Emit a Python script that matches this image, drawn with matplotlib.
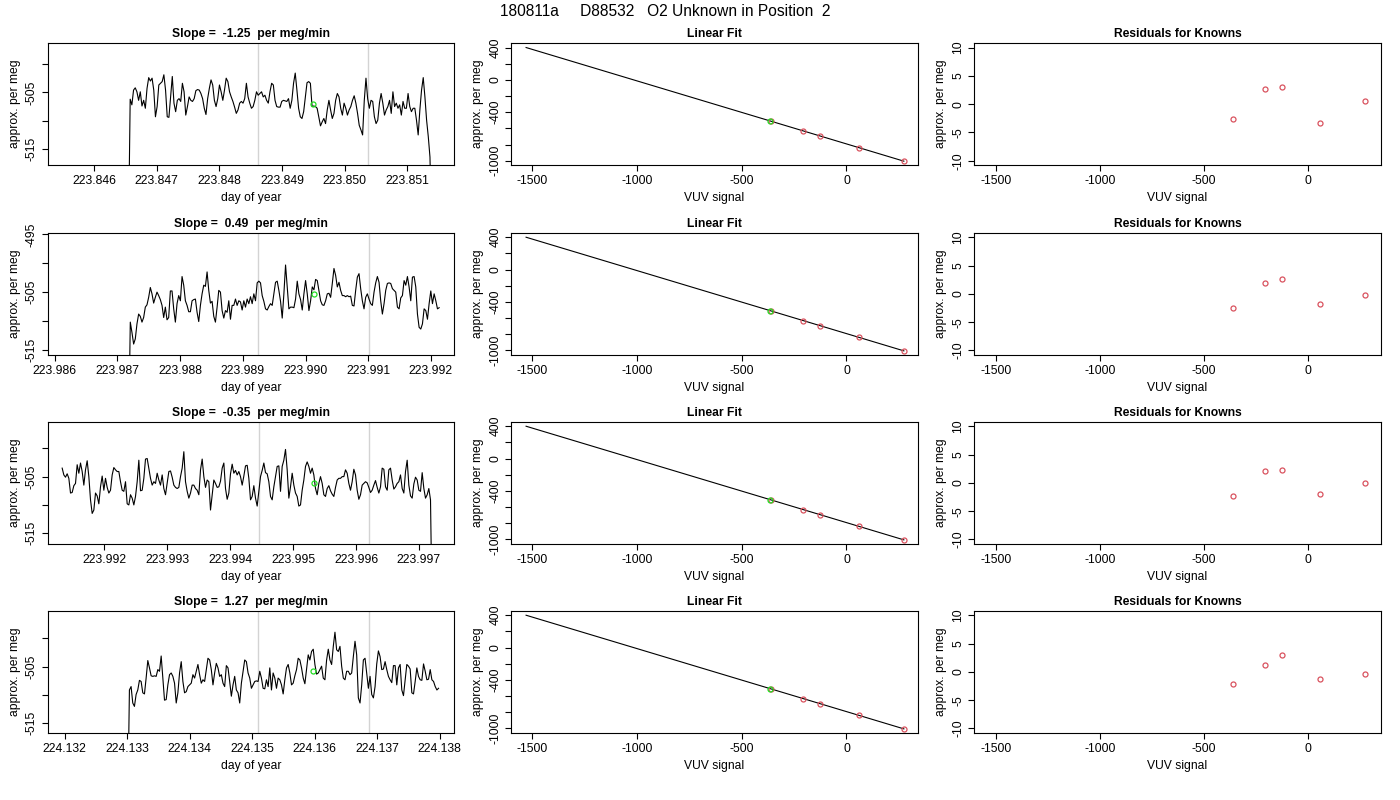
import numpy as np
import matplotlib
matplotlib.use("Agg")
import matplotlib.pyplot as plt

plt.rcParams['font.family'] = ['Liberation Sans', 'DejaVu Sans']

# ---------------- data ----------------
main_title = "180811a     D88532   O2 Unknown in Position  2"
slope_titles = ["Slope =  -1.25  per meg/min", "Slope =  0.49  per meg/min",
                "Slope =  -0.35  per meg/min", "Slope =  1.27  per meg/min"]

ts1_vals = [-530, -506.2, -507.2, -504.6, -504.2, -504.9, -506.4, -504.9, -507.4, -506.4, -507.8, -504.3,
            -502.4, -503.0, -502.5, -504.6, -509.3, -507.5, -503.7, -503.4, -503.1, -501.9, -504.6, -509.3,
            -509.4, -505.8, -502.2, -506.9, -508.4, -506.4, -506.1, -506.6, -503.4, -504.9, -509.0, -507.5,
            -505.8, -506.4, -506.6, -506.1, -504.7, -504.5, -504.6, -505.2, -506.1, -507.8, -508.9, -506.1,
            -504.3, -502.8, -503.7, -506.4, -507.5, -506.1, -503.7, -504.9, -506.4, -504.6, -502.5, -503.1,
            -504.9, -505.8, -506.6, -507.6, -508.7, -508.1, -506.9, -506.6, -506.9, -506.1, -503.4, -505.8,
            -506.9, -507.8, -507.5, -506.4, -504.9, -505.5, -505.2, -504.9, -505.8, -505.5, -506.4, -506.9,
            -504.9, -503.4, -503.7, -506.4, -507.5, -507.6, -507.6, -506.6, -506.4, -506.5, -506.6, -506.1,
            -507.8, -506.4, -503.4, -501.6, -504.6, -507.8, -509.3, -509.6, -508.4, -505.8, -503.3, -503.1,
            -503.4, -507.5, -507.4, -507.5, -507.8, -509.3, -510.9, -510.2, -509.6, -510.5, -508.1, -506.4,
            -508.1, -509.6, -508.7, -506.4, -505.2, -505.8, -507.8, -509.0, -506.9, -507.8, -509.0, -508.1,
            -507.5, -506.4, -505.6, -506.9, -508.7, -510.8, -511.6, -512.5, -506.4, -502.5, -506.1, -507.8,
            -506.4, -506.6, -509.3, -510.5, -509.9, -506.9, -505.2, -506.9, -509.0, -508.1, -507.5, -506.4,
            -508.7, -504.9, -507.5, -506.9, -507.8, -507.2, -509.0, -506.6, -507.8, -507.8, -505.2, -507.5,
            -508.4, -507.8, -507.8, -509.9, -512.5, -508.1, -504.6, -502.4, -505.8, -509.9, -512.8, -516.4,
            -530]

ts2_vals = [-530, -510.2, -512.0, -514.0, -513.1, -510.5, -508.8, -509.2, -510.2, -509.4, -507.6, -507.2,
            -505.9, -504.2, -505.3, -506.9, -505.9, -505.0, -505.6, -506.3, -507.3, -509.4, -507.6, -509.8,
            -509.4, -504.8, -504.8, -507.9, -510.2, -507.0, -505.6, -506.5, -502.3, -503.8, -506.5, -507.3,
            -508.4, -508.4, -506.5, -506.3, -506.2, -508.5, -510.1, -507.3, -505.3, -503.8, -504.0, -501.5,
            -504.7, -506.9, -506.6, -509.2, -510.2, -507.6, -504.7, -505.0, -508.2, -509.5, -508.2, -508.5,
            -506.5, -509.7, -507.3, -507.3, -506.2, -507.3, -506.5, -506.7, -508.1, -506.5, -507.6, -506.2,
            -507.0, -505.8, -507.0, -505.3, -506.5, -503.4, -503.1, -503.4, -505.6, -506.6, -507.9, -508.1,
            -507.5, -507.0, -507.3, -505.3, -503.3, -503.1, -504.7, -506.6, -509.5, -505.3, -500.3, -504.1,
            -507.9, -507.6, -507.6, -507.7, -506.2, -503.1, -505.3, -506.3, -508.1, -505.3, -503.0, -505.3,
            -508.2, -506.5, -504.1, -504.6, -502.8, -503.0, -504.7, -506.5, -507.2, -507.3, -506.5, -505.3,
            -505.2, -505.9, -503.5, -500.9, -502.1, -504.1, -503.3, -504.7, -505.6, -505.6, -505.8, -505.6,
            -505.8, -505.7, -507.3, -507.4, -504.7, -502.4, -501.8, -504.4, -506.5, -507.9, -505.9, -505.3,
            -506.2, -507.0, -507.3, -505.0, -503.4, -502.3, -503.3, -506.5, -508.8, -507.0, -504.7, -503.5,
            -503.4, -503.5, -504.4, -504.7, -505.0, -507.6, -507.9, -506.0, -505.6, -503.0, -503.8, -502.3,
            -504.1, -506.5, -502.4, -502.3, -504.1, -508.8, -511.1, -511.4, -510.5, -507.9, -508.2, -509.7,
            -507.0, -504.8, -507.0, -505.3, -506.5, -507.9, -507.7]

ts3_vals = [-503.5, -504.7, -505.1, -504.5, -505.3, -507.9, -507.8, -506.6, -506.2, -502.9, -504.4, -502.6,
            -504.1, -506.5, -503.8, -502.2, -505.0, -509.1, -511.5, -510.9, -507.9, -508.4, -509.8, -506.8,
            -504.9, -507.4, -505.3, -506.9, -507.9, -507.4, -504.7, -503.4, -503.8, -504.1, -504.1, -505.9,
            -507.4, -507.6, -505.9, -509.8, -510.0, -508.2, -508.8, -510.0, -508.5, -505.9, -502.1, -507.5,
            -507.4, -505.3, -501.9, -501.8, -503.5, -505.3, -506.5, -505.9, -506.2, -504.4, -505.6, -506.5,
            -504.7, -507.1, -508.2, -506.2, -504.1, -504.0, -505.1, -506.5, -506.9, -507.1, -506.9, -505.0,
            -503.5, -500.6, -505.9, -507.6, -508.8, -507.9, -506.5, -506.5, -507.1, -507.4, -508.2, -503.8,
            -501.9, -505.0, -506.9, -505.6, -505.9, -510.9, -508.2, -505.6, -506.2, -506.9, -506.8, -505.8,
            -503.5, -502.6, -507.1, -509.0, -507.9, -504.5, -502.8, -504.4, -503.9, -504.7, -504.1, -505.0,
            -506.5, -504.9, -503.1, -503.0, -505.3, -509.1, -508.5, -506.6, -508.8, -510.2, -507.6, -505.0,
            -503.9, -502.6, -504.3, -504.5, -505.9, -508.5, -509.1, -506.8, -505.0, -503.2, -503.1, -507.6,
            -503.2, -502.1, -500.2, -503.8, -508.8, -506.8, -504.4, -506.5, -507.9, -508.5, -510.2, -510.0,
            -507.4, -505.6, -503.2, -502.4, -503.2, -504.4, -503.5, -504.7, -507.1, -508.2, -506.2, -505.0,
            -506.2, -508.2, -508.5, -507.1, -506.6, -507.5, -508.1, -508.5, -506.9, -505.6, -505.3, -505.3,
            -505.0, -505.0, -503.8, -504.4, -506.2, -507.4, -505.9, -503.7, -504.7, -507.4, -509.0, -508.2,
            -506.5, -506.2, -505.9, -506.1, -506.9, -507.8, -507.4, -506.5, -505.7, -506.9, -507.9, -506.8,
            -503.5, -503.7, -506.8, -507.4, -503.8, -503.5, -505.6, -507.2, -506.8, -506.2, -505.9, -504.7,
            -507.1, -507.9, -504.1, -502.1, -506.5, -508.4, -508.8, -506.3, -505.1, -505.6, -507.4, -507.6,
            -504.3, -507.1, -508.8, -508.2, -507.1, -509.1, -530]

ts4_vals = [-530, -509.1, -508.5, -511.4, -512.0, -509.9, -509.1, -507.4, -507.6, -509.6, -509.8, -507.0,
            -503.9, -505.2, -506.6, -506.7, -506.6, -506.7, -505.5, -505.8, -503.1, -507.0, -510.9, -510.8,
            -508.2, -506.4, -506.1, -506.7, -507.9, -511.4, -509.6, -506.1, -504.1, -507.6, -509.6, -509.4,
            -508.5, -508.2, -507.9, -506.4, -507.0, -505.8, -504.6, -506.4, -507.9, -507.3, -507.6, -505.5,
            -503.5, -503.8, -505.5, -508.2, -506.1, -504.4, -505.2, -506.7, -506.4, -507.9, -508.5, -504.8,
            -505.2, -507.6, -510.2, -508.2, -506.7, -509.1, -509.6, -511.4, -507.9, -505.8, -503.8, -504.1,
            -506.1, -507.0, -508.8, -508.2, -507.6, -507.5, -507.6, -505.8, -507.0, -508.8, -508.9, -507.3,
            -508.5, -505.2, -509.1, -506.1, -507.0, -508.8, -507.0, -507.3, -508.2, -509.8, -507.3, -505.2,
            -504.6, -506.1, -508.2, -507.9, -506.6, -505.5, -503.5, -503.8, -505.2, -507.0, -508.0, -505.5,
            -502.9, -503.8, -502.3, -501.9, -504.6, -506.3, -506.1, -505.5, -504.9, -507.0, -507.3, -503.8,
            -501.9, -503.8, -504.6, -501.4, -498.9, -502.0, -502.3, -501.4, -504.9, -507.0, -507.3, -505.8,
            -505.8, -506.4, -506.1, -503.2, -500.5, -502.9, -510.5, -511.4, -508.2, -503.8, -503.5, -506.1,
            -508.8, -506.7, -509.9, -510.5, -508.5, -504.5, -502.2, -503.2, -505.5, -505.4, -504.1, -505.5,
            -506.7, -507.3, -507.8, -504.8, -504.8, -508.2, -505.2, -504.6, -509.1, -510.1, -507.3, -504.6,
            -504.9, -505.4, -509.6, -509.8, -507.6, -505.2, -506.7, -507.3, -507.4, -504.5, -505.8, -507.3,
            -507.2, -505.5, -507.3, -507.6, -508.5, -509.1, -508.8]

ts_vals = [ts1_vals, ts2_vals, ts3_vals, ts4_vals]
# first / last sample time (day of year)
ts_start = [223.84655, 223.98718, 223.99133, 224.13301]
ts_end = [223.85139, 223.99213, 223.99721, 224.13798]
# gray markers
gray_lines = [[223.84862, 223.85037], [223.98925, 223.99101],
              [223.99445, 223.99620], [224.13510, 224.13686]]
# green (unknown mean) points
green_t = [223.84950, 223.99013, 223.99533, 224.13598]
green_v = [-507.1, -505.3, -506.1, -505.8]
ts_xlim = [(223.84526, 223.85175), (223.98589, 223.99237),
           (223.99110, 223.99756), (224.13173, 224.13823)]
ts_ylim = [(-517.85, -496.3), (-515.9, -494.7), (-516.9, -495.3), (-516.7, -495.1)]
ts_xticks = [[223.846, 223.847, 223.848, 223.849, 223.850, 223.851],
             [223.986, 223.987, 223.988, 223.989, 223.990, 223.991, 223.992],
             [223.992, 223.993, 223.994, 223.995, 223.996, 223.997],
             [224.132, 224.133, 224.134, 224.135, 224.136, 224.137, 224.138]]
ts_yticks = [[-515, -510, -505, -500], [-515, -510, -505, -500, -495],
             [-515, -510, -505, -500], [-515, -510, -505, -500]]
ts_yticklabels = [['-515', '', '-505', ''], ['-515', '', '-505', '', '-495'],
                  ['-515', '', '-505', ''], ['-515', '', '-505', '']]

# linear fit (same for every row)
fit_x = [-1529, 274]
fit_y = [400, -1005]
known_x = [-361, -206, -125, 59, 274]
known_y = [-510, -631, -694, -837, -1005]
unknown_x = -364
unknown_y = -507
lf_xticks = [-1500, -1000, -500, 0]
lf_yticks = [400, 200, 0, -200, -400, -600, -800, -1000]
lf_yticklabels = ['400', '', '0', '', '-400', '', '', '-1000']

residuals = [[-2.7, 2.7, 3.0, -3.4, 0.5],
             [-2.5, 1.9, 2.6, -1.85, -0.25],
             [-2.4, 2.1, 2.3, -2.0, 0.0],
             [-2.1, 1.15, 2.9, -1.2, -0.45]]
res_yticks = [10, 5, 0, -5, -10]

RED = '#D9525E'
GREEN = '#22DD22'
FS = 8.7
MS = 3.6

# ---------------- layout ----------------
W, H = 1400, 800
fig = plt.figure(figsize=(14, 8), dpi=100)
col_left = [47.7, 511.0, 974.3]
col_w = 406.5
row_top = [43.0, 232.7, 421.7, 610.7]
row_h = 122.3


def make_ax(r, c):
    l = col_left[c] / W
    b = 1 - (row_top[r] + row_h) / H
    ax = fig.add_axes([l, b, col_w / W, row_h / H])
    for s in ax.spines.values():
        s.set_color('black')
        s.set_linewidth(0.8)
    ax.tick_params(direction='out', length=4.5, width=0.8, labelsize=FS, pad=2.5)
    ax.tick_params(axis='y', labelrotation=90)
    return ax


def finish(ax, title, xlabel):
    ax.set_title(title, fontsize=FS, fontweight='bold', pad=4)
    ax.set_xlabel(xlabel, fontsize=FS)
    ax.set_ylabel('approx. per meg', fontsize=FS)
    ax.xaxis.set_label_coords(0.5, -33 / row_h)
    ax.xaxis.label.set_va('center')
    ax.yaxis.set_label_coords(-33 / col_w, 0.5)
    ax.yaxis.label.set_va('center')
    for lab in ax.get_yticklabels():
        lab.set_va('center')


for r in range(4):
    # time series
    ax = make_ax(r, 0)
    vals = ts_vals[r]
    t = np.linspace(ts_start[r], ts_end[r], len(vals))
    for g in gray_lines[r]:
        ax.axvline(g, color='#D3D3D3', lw=1.0, zorder=1)
    ax.plot(t, vals, color='black', lw=0.8, zorder=2)
    ax.plot([green_t[r]], [green_v[r]], 'o', mfc='none', mec=GREEN, ms=MS, mew=0.9, zorder=3)
    ax.set_xlim(*ts_xlim[r])
    ax.set_ylim(*ts_ylim[r])
    ax.set_xticks(ts_xticks[r])
    ax.set_xticklabels(['%.3f' % v for v in ts_xticks[r]])
    ax.set_yticks(ts_yticks[r])
    ax.set_yticklabels(ts_yticklabels[r])
    finish(ax, slope_titles[r], 'day of year')

    # linear fit
    ax = make_ax(r, 1)
    ax.plot(fit_x, fit_y, color='black', lw=0.8)
    ax.plot(known_x, known_y, 'o', mfc='none', mec=RED, ms=MS, mew=0.9)
    ax.plot([unknown_x], [unknown_y], 'o', mfc='none', mec=GREEN, ms=MS, mew=0.9)
    ax.set_xlim(-1601, 339)
    ax.set_ylim(-1056, 456)
    ax.set_xticks(lf_xticks)
    ax.set_xticklabels([str(v) for v in lf_xticks])
    ax.set_yticks(lf_yticks)
    ax.set_yticklabels(lf_yticklabels)
    finish(ax, 'Linear Fit', 'VUV signal')

    # residuals
    ax = make_ax(r, 2)
    ax.plot(known_x, residuals[r], 'o', mfc='none', mec=RED, ms=MS, mew=0.9)
    ax.set_xlim(-1604, 352)
    ax.set_ylim(-10.8, 10.8)
    ax.set_xticks(lf_xticks)
    ax.set_xticklabels([str(v) for v in lf_xticks])
    ax.set_yticks(res_yticks)
    ax.set_yticklabels([str(v) for v in res_yticks])
    finish(ax, 'Residuals for Knowns', 'VUV signal')

fig.text(665 / W, 1 - 12 / H, main_title, ha='center', va='center', fontsize=11.2)

fig.savefig('out.png', dpi=100, facecolor='white')
